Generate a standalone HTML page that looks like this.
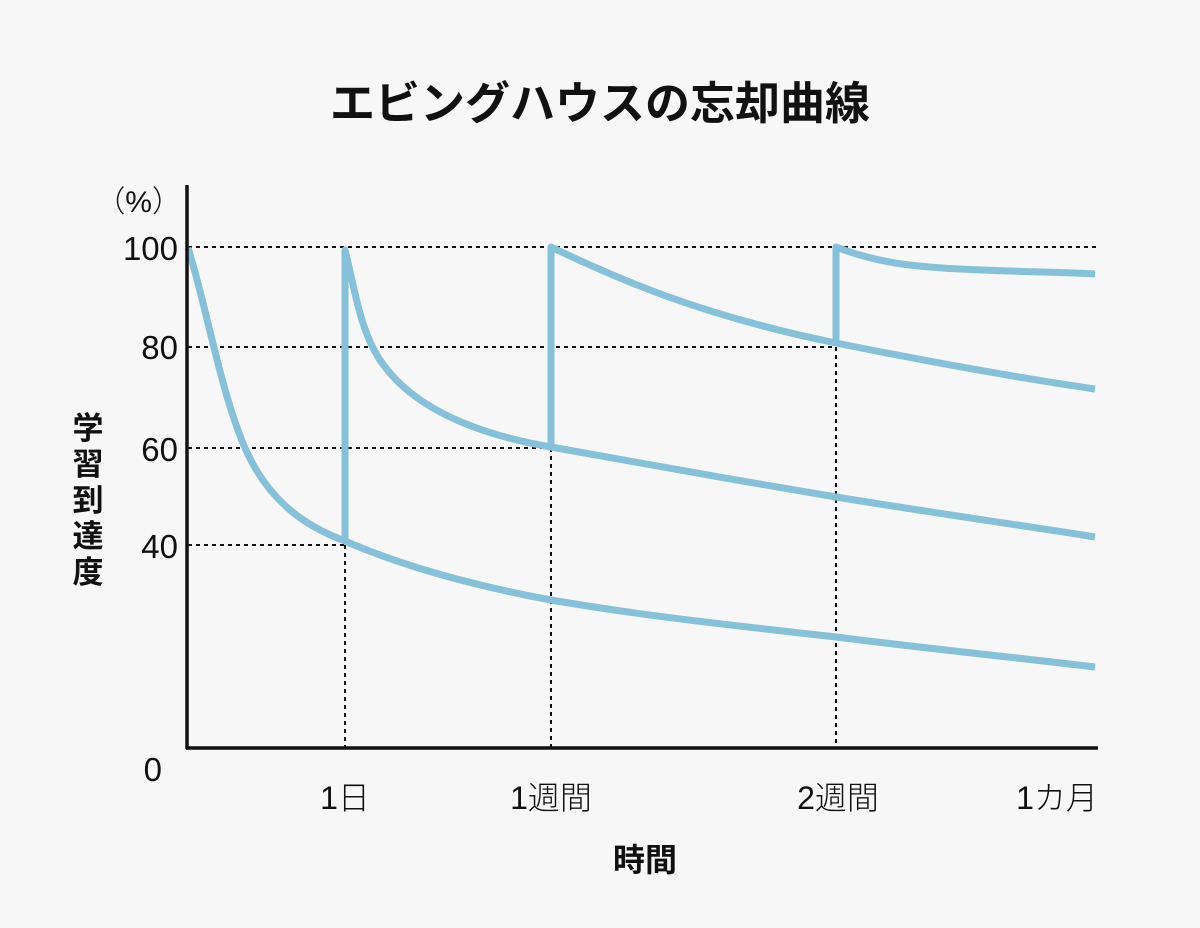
<!DOCTYPE html>
<html><head><meta charset="utf-8"><style>
html,body{margin:0;padding:0;background:#f7f7f7;}
svg{display:block;}
text{font-family:"Liberation Sans","Noto Sans CJK JP",sans-serif;fill:#111;}
</style></head><body>
<svg width="1200" height="928" viewBox="0 0 1200 928">
<rect width="1200" height="928" fill="#f7f7f7"/>
<text x="600" y="119" text-anchor="middle" font-size="45" font-weight="bold" style="font-family:'Noto Sans CJK JP',sans-serif">エビングハウスの忘却曲線</text>
<g stroke="#111" stroke-width="2" stroke-dasharray="4,4" fill="none">
<line x1="188" y1="247" x2="1098" y2="247"/>
<line x1="188" y1="347" x2="836" y2="347"/>
<line x1="188" y1="448" x2="551" y2="448"/>
<line x1="188" y1="545" x2="345" y2="545"/>
<line x1="345" y1="545" x2="345" y2="748"/>
<line x1="551" y1="448" x2="551" y2="748"/>
<line x1="836" y1="347" x2="836" y2="748"/>
</g>
<g stroke="#86c1da" stroke-width="7" fill="none" stroke-linejoin="round">
<path d="M188,248 C205,300 220,390 245,448 C270,505 310,528 345,541 C400,565 470,585 551,600 C650,617 740,626 836,637 C940,650 1020,658 1095,667"/>
<path d="M345,541 L345,250 C355,290 360,330 380,360 C410,405 470,433 551,447 C650,465 740,481 836,497 C940,514 1020,525 1095,537"/>
<path d="M551,447 L551,247 C620,280 700,315 836,343 C940,364 1020,378 1095,389"/>
<path d="M836,343 L836,247 C870,260 900,266 960,269 C1020,272 1060,272 1095,274"/>
</g>
<line x1="187" y1="185" x2="187" y2="749" stroke="#111" stroke-width="3.5"/>
<line x1="186" y1="748" x2="1098" y2="748" stroke="#111" stroke-width="3.5"/>
<g font-size="33" style="font-family:'Noto Sans CJK JP',sans-serif" font-weight="300" text-anchor="end">
<text x="182" y="212" font-size="30">（%）</text>
<text x="178" y="260">100</text>
<text x="178" y="359">80</text>
<text x="178" y="461">60</text>
<text x="178" y="558">40</text>
<text x="162" y="781">0</text>
</g>
<g font-size="32" style="font-family:'Noto Sans CJK JP',sans-serif" font-weight="300" text-anchor="middle">
<text x="345" y="809">1日</text>
<text x="551" y="809">1週間</text>
<text x="838" y="809">2週間</text>
<text x="1057" y="809">1カ月</text>
</g>
<text x="645" y="871" text-anchor="middle" font-weight="bold" font-size="32" style="font-family:'Noto Sans CJK JP',sans-serif">時間</text>
<g font-size="31" font-weight="bold" style="font-family:'Noto Sans CJK JP',sans-serif" text-anchor="middle">
<text x="88" y="439">学</text>
<text x="88" y="475">習</text>
<text x="88" y="511">到</text>
<text x="88" y="547">達</text>
<text x="88" y="583">度</text>
</g>
</svg>
</body></html>
